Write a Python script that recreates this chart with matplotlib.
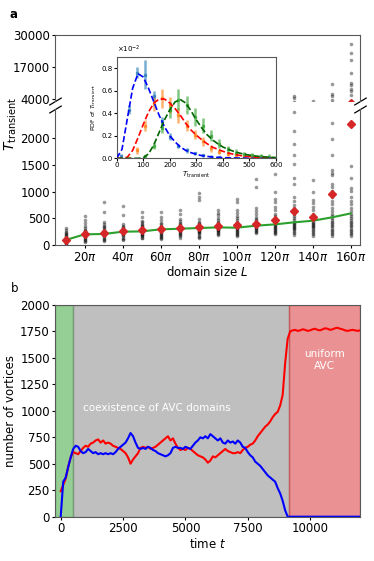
import numpy as np
import matplotlib
matplotlib.use("Agg")
import matplotlib.pyplot as plt

plt.rcParams['font.size'] = 8.5
plt.rcParams['axes.edgecolor'] = '0.35'
plt.rcParams['xtick.major.size'] = 2.5
plt.rcParams['ytick.major.size'] = 2.5
plt.rcParams['xtick.major.pad'] = 1.5
plt.rcParams['ytick.major.pad'] = 1.2

# ---------------- panel a data ----------------
L_pi = [10, 20, 30, 40, 50, 60, 70, 80, 90, 100, 110, 120, 130, 140, 150, 160]
T_mean = [93, 206, 230, 268, 280, 299, 324, 343, 355, 374, 393, 467, 629, 530, 947, 2260]
T_median = [93, 200, 206, 249, 255, 293, 305, 318, 330, 324, 361, 386, 424, 455, 517, 592]

T_samples = {
    10: [20, 30, 40, 50, 60, 70, 80, 90, 95, 100, 110, 115, 125, 135, 150, 165, 180, 200, 220, 250, 280, 320],
    20: [62, 80, 100, 120, 135, 150, 165, 175, 185, 195, 205, 215, 225, 240, 255, 270, 290, 320, 355, 420, 470, 550],
    30: [80, 100, 120, 140, 160, 175, 190, 205, 215, 225, 240, 255, 270, 290, 310, 335, 360, 400, 440, 610, 810],
    40: [95, 120, 140, 160, 180, 200, 215, 230, 245, 260, 275, 290, 305, 320, 340, 360, 390, 560, 730],
    50: [125, 140, 160, 180, 195, 210, 225, 240, 255, 265, 280, 295, 310, 330, 350, 375, 400, 430, 455, 520, 620],
    60: [105, 130, 150, 170, 190, 210, 225, 240, 255, 270, 285, 300, 320, 340, 365, 390, 420, 465, 530, 610],
    70: [140, 160, 180, 200, 220, 240, 255, 270, 285, 300, 315, 330, 350, 370, 395, 420, 450, 480, 580, 650],
    80: [125, 150, 175, 200, 220, 240, 255, 270, 285, 300, 320, 340, 360, 385, 410, 440, 490, 840, 900, 980],
    90: [180, 200, 220, 240, 260, 275, 290, 305, 320, 335, 350, 370, 390, 410, 440, 470, 510, 560, 600, 660],
    100: [170, 190, 210, 230, 250, 265, 280, 295, 310, 325, 340, 360, 380, 400, 430, 460, 500, 540, 600, 650, 810, 870],
    110: [220, 240, 260, 280, 300, 315, 330, 345, 360, 375, 390, 410, 430, 460, 490, 530, 580, 640, 690, 1090, 1230],
    120: [200, 220, 245, 265, 285, 300, 320, 340, 360, 380, 400, 420, 440, 470, 500, 540, 590, 650, 720, 800, 870, 1000, 1340],
    130: [190, 220, 250, 280, 300, 320, 340, 360, 380, 400, 420, 440, 470, 500, 540, 580, 630, 690, 750, 820, 900,
          1150, 1250, 1510, 1690, 1900, 2140, 2490, 4400, 4900],
    140: [170, 200, 230, 260, 290, 310, 330, 350, 370, 390, 410, 440, 470, 500, 540, 590, 650, 720, 790, 850, 1000,
          1210, 3100],
    150: [170, 200, 230, 260, 290, 320, 350, 380, 410, 440, 470, 500, 540, 580, 630, 690, 760, 830, 900, 1020, 1090,
          1150, 1310, 1350, 1400, 1680, 1990, 2290, 3400, 5170, 5740, 9950],
    160: [170, 200, 230, 260, 290, 320, 350, 380, 410, 440, 470, 500, 540, 580, 630, 690, 760, 830, 900, 1020, 1060,
          1250, 1490, 3000, 5450, 6900, 7790, 9550, 10240, 14580, 19770, 22510, 26320],
}

# inset: histograms (units of 1e-2) and fitted curves
bin_T = [15, 46, 77, 108, 139, 170, 201, 232, 263, 294, 325, 356, 387, 418, 449, 480, 511, 542, 573]
pdf_blue = [0.02, 0.43, 0.76, 0.74, 0.55, 0.33, 0.19, 0.11, 0.07, 0.045, 0.025, 0.015, 0.008]
err_blue = [0.02, 0.04, 0.05, 0.13, 0.05, 0.04, 0.03, 0.02, 0.02, 0.015, 0.01, 0.01, 0.01]
pdf_orange = [0.0, 0.07, 0.29, 0.48, 0.53, 0.47, 0.38, 0.29, 0.21, 0.15, 0.09, 0.06, 0.04, 0.025, 0.016, 0.01, 0.007, 0.005]
err_orange = [0.01, 0.03, 0.05, 0.06, 0.08, 0.07, 0.07, 0.05, 0.04, 0.04, 0.03, 0.02, 0.02, 0.02, 0.015, 0.01, 0.01, 0.01]
pdf_green = [0.02, 0.11, 0.27, 0.43, 0.52, 0.47, 0.37, 0.29, 0.2, 0.13, 0.08, 0.05, 0.035, 0.025, 0.02, 0.015]
err_green = [0.01, 0.03, 0.05, 0.07, 0.09, 0.08, 0.08, 0.07, 0.05, 0.04, 0.03, 0.03, 0.02, 0.02, 0.02, 0.02]

fit_T = [0, 20, 40, 60, 80, 100, 120, 140, 160, 180, 200, 220, 240, 260, 280, 300,
         320, 340, 360, 380, 400, 420, 440, 460, 480, 500, 520, 540, 560, 580, 600]
fit_blue = [0.0, 0.08, 0.35, 0.62, 0.75, 0.72, 0.62, 0.5, 0.38, 0.28, 0.2, 0.145, 0.1, 0.07, 0.05, 0.035,
            0.024, 0.017, 0.012, 0.008, 0.006, 0.004, 0.003, 0.002, 0.0015, 0.001, 0.001, 0.0, 0.0, 0.0, 0.0]
fit_red = [0.0, 0.0, 0.01, 0.07, 0.18, 0.3, 0.41, 0.49, 0.525, 0.525, 0.49, 0.44, 0.38, 0.31, 0.25, 0.205,
           0.165, 0.13, 0.1, 0.08, 0.062, 0.047, 0.036, 0.027, 0.02, 0.015, 0.011, 0.008, 0.006, 0.005, 0.004]
fit_green = [0.0, 0.0, 0.0, 0.0, 0.0, 0.005, 0.04, 0.12, 0.23, 0.34, 0.43, 0.5, 0.52, 0.49, 0.42, 0.34,
             0.27, 0.21, 0.165, 0.13, 0.1, 0.08, 0.062, 0.048, 0.037, 0.028, 0.021, 0.016, 0.012, 0.009, 0.007]

# ---------------- panel b data ----------------
t = list(range(0, 12001, 100))
n_red = [240, 300, 360, 470, 560, 610, 600, 590, 620, 650, 670, 660, 690, 700, 720, 730, 700, 720, 690, 700,
         690, 670, 660, 650, 640, 620, 600, 560, 500, 540, 570, 600, 650, 660, 650, 660, 640, 650, 660, 680,
         700, 720, 740, 760, 720, 740, 690, 650, 630, 640, 630, 650, 640, 620, 600, 580, 570, 560, 540, 510,
         530, 570, 560, 580, 600, 620, 640, 620, 610, 600, 600, 610, 600, 630, 650, 660, 680, 690, 720, 760,
         790, 820, 850, 870, 900, 940, 970, 990, 1050, 1150, 1450, 1680, 1750, 1760, 1765, 1755, 1760, 1770, 1765, 1755,
         1760, 1770, 1775, 1765, 1760, 1770, 1780, 1775, 1765, 1770, 1780, 1785, 1775, 1770, 1760, 1755, 1760, 1765, 1760, 1755,
         1760]
n_blue = [0, 330, 370, 470, 560, 640, 670, 660, 620, 600, 610, 640, 620, 600, 610, 590, 600, 590, 600, 590,
          600, 590, 610, 640, 660, 680, 700, 740, 790, 760, 700, 650, 640, 650, 640, 660, 650, 630, 620, 600,
          590, 580, 570, 580, 600, 650, 660, 650, 650, 640, 660, 650, 640, 670, 700, 720, 750, 740, 760, 740,
          780, 760, 740, 720, 740, 700, 690, 720, 700, 710, 690, 720, 700, 660, 650, 610, 580, 560, 520, 500,
          480, 450, 420, 390, 370, 350, 330, 270, 220, 150, 60, 0, 0, 0, 0, 0, 0, 0, 0, 0,
          0, 0, 0, 0, 0, 0, 0, 0, 0, 0, 0, 0, 0, 0, 0, 0, 0, 0, 0, 0,
          0]

fig = plt.figure(figsize=(3.74, 5.61), dpi=100)

ax_top = fig.add_axes([0.147, 0.820, 0.8155, 0.1176])
ax_bot = fig.add_axes([0.147, 0.5633, 0.8155, 0.2424])

for ax in (ax_top, ax_bot):
    for L in L_pi:
        ax.plot([L] * len(T_samples[L]), T_samples[L], 'o', color='k', alpha=0.4,
                markersize=2.6, markeredgewidth=0, zorder=2)
    ax.plot(L_pi, T_median, '-', color='tab:green', lw=1.5, zorder=3)
    ax.plot(L_pi, T_mean, 'D', color='tab:red', markersize=4, zorder=4)
    ax.set_xlim(4.4, 164.9)

ax_top.set_ylim(3000, 30000)
ax_top.set_yticks([4000, 17000, 30000])
ax_top.spines['bottom'].set_visible(False)
ax_top.tick_params(axis='x', bottom=False, labelbottom=False)

ax_bot.set_ylim(0, 2550)
ax_bot.set_yticks([0, 500, 1000, 1500, 2000])
ax_bot.spines['top'].set_visible(False)
ax_bot.set_xticks(L_pi[1::2])
ax_bot.set_xticklabels([r'$%d\pi$' % v for v in L_pi[1::2]])
ax_bot.set_xlabel(r'domain size $L$', labelpad=1)

# break marks
kw = dict(marker=[(-1, -0.6), (1, 0.6)], markersize=9, linestyle='none',
          color='k', mec='k', mew=0.9, clip_on=False)
ax_top.plot([0, 1], [0, 0], transform=ax_top.transAxes, **kw)
ax_bot.plot([0, 1], [1, 1], transform=ax_bot.transAxes, **kw)

fig.text(11 / 374, 1 - 124 / 561, r'$T_{\rm transient}$', rotation=90, ha='center', va='center', fontsize=10)
fig.text(0.025, 1 - 15 / 561, 'a', fontsize=8.5, fontweight='bold', ha='left', va='center')

# inset
axi = fig.add_axes([0.312, 0.7178, 0.426, 0.1811])
axi.errorbar(bin_T[:len(pdf_blue)], pdf_blue, yerr=err_blue, fmt='s', color='tab:blue',
             ms=2, lw=1.8, alpha=0.6, zorder=2)
axi.errorbar(bin_T[1:1 + len(pdf_orange)], pdf_orange, yerr=err_orange, fmt='s', color='tab:orange',
             ms=2, lw=1.8, alpha=0.6, zorder=2)
axi.errorbar(bin_T[3:3 + len(pdf_green)], pdf_green, yerr=err_green, fmt='s', color='tab:green',
             ms=2, lw=1.8, alpha=0.6, zorder=2)
axi.plot(fit_T, fit_blue, '--', color='blue', lw=1.2, zorder=3)
axi.plot(fit_T, fit_red, '--', color='red', lw=1.2, zorder=3)
axi.plot(fit_T, fit_green, '--', color='darkgreen', lw=1.2, zorder=3)
axi.set_xlim(0, 600)
axi.set_ylim(0, 0.9)
axi.set_xticks([0, 100, 200, 300, 400, 500, 600])
axi.set_yticks([0, 0.2, 0.4, 0.6, 0.8])
axi.set_yticklabels(['0.0', '0.2', '0.4', '0.6', '0.8'])
axi.tick_params(labelsize=5, length=2, pad=1)
axi.set_xlabel(r'$T_{\rm transient}$', fontsize=5, labelpad=1)
axi.set_ylabel(r'PDF of $T_{\rm transient}$', fontsize=4.5, labelpad=2)
axi.text(0.0, 1.02, r'$\times10^{-2}$', transform=axi.transAxes, fontsize=5, ha='left', va='bottom')

# ---------------- panel b ----------------
axb = fig.add_axes([0.147, 0.079, 0.8155, 0.3774])
axb.axvspan(-230, 500, color='tab:green', alpha=0.5, zorder=0)
axb.axvspan(500, 9150, color='gray', alpha=0.5, zorder=0)
axb.axvspan(9150, 12000, color='tab:red', alpha=0.5, zorder=0)
axb.plot(t, n_red, color='red', lw=1.5)
axb.plot(t, n_blue, color='blue', lw=1.5)
axb.set_xlim(-230, 12000)
axb.set_ylim(0, 2000)
axb.set_yticks(range(0, 2001, 250))
axb.set_xticks([0, 2500, 5000, 7500, 10000])
axb.set_xlabel(r'time $t$', labelpad=1)
axb.set_ylabel('number of vortices', labelpad=2)
axb.text(900, 1030, 'coexistence of AVC domains', color='white', fontsize=7.5, va='center')
axb.text(10570, 1480, 'uniform\nAVC', color='white', fontsize=7.5, ha='center', va='center')
fig.text(0.028, 1 - 288 / 561, 'b', fontsize=8.5, ha='left', va='center')

fig.savefig('out.png', dpi=100)
